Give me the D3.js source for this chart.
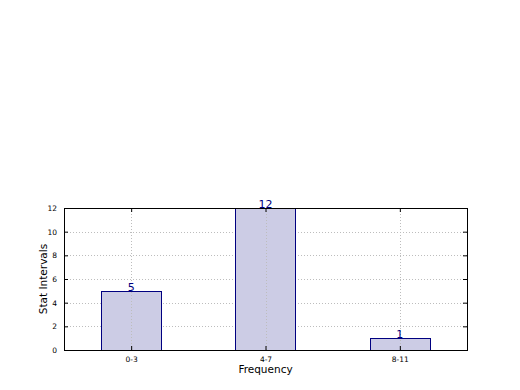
<!DOCTYPE html>
<html>
<head>
<meta charset="utf-8">
<script src="https://cdn.jsdelivr.net/npm/d3@7"></script>
<style>
  body { margin: 0; background: #fff; }
  svg { font-family: "DejaVu Sans", sans-serif; }
</style>
</head>
<body>
<div id="chart"></div>
<script>
// frequency bar chart

const categories = ["0-3", "4-7", "8-11"]
const counts = [5, 12, 1]
const yTicks = [0, 2, 4, 6, 8, 10, 12]

const width = 520
const height = 390

// plot box
const plotLeft = 64, plotRight = 467, plotTop = 208, plotBottom = 350

const xScale = d3.scalePoint(categories, [plotLeft, plotRight]).padding(0.5)
const yScale = d3.scaleLinear([0, 12], [plotBottom, plotTop])
const barW = xScale.step() * 0.45

const svg = d3.select("#chart")
  .append("svg")
  .attr("width", width)
  .attr("height", height)

// horizontal grid
svg.append("g")
  .attr("stroke", "#bdbdbd")
  .attr("stroke-dasharray", "1,2")
  .selectAll("line")
  .data(yTicks)
  .join("line")
  .attr("x1", plotLeft).attr("x2", plotRight)
  .attr("y1", d => Math.round(yScale(d)) + 0.5)
  .attr("y2", d => Math.round(yScale(d)) + 0.5)

// bars
svg.append("g")
  .selectAll("rect")
  .data(counts)
  .join("rect")
  .attr("x", (d, i) => Math.round(xScale(categories[i]) - barW / 2) + 0.5)
  .attr("y", d => Math.round(yScale(d)) + 0.5)
  .attr("width", Math.round(barW))
  .attr("height", d => yScale(0) - Math.round(yScale(d)))
  .attr("fill", "#ccccE5")
  .attr("stroke", "#000080")
  .attr("stroke-width", 1)

// vertical grid drawn over bars
svg.append("g")
  .attr("stroke", "#bdbdbd")
  .attr("stroke-dasharray", "1,2")
  .selectAll("line")
  .data(categories)
  .join("line")
  .attr("x1", d => Math.round(xScale(d)) + 0.5)
  .attr("x2", d => Math.round(xScale(d)) + 0.5)
  .attr("y1", plotTop).attr("y2", plotBottom)

// axes with inward ticks
const axL = d3.axisLeft(yScale).tickValues(yTicks).tickSizeInner(-4).tickSizeOuter(0).tickPadding(7)
const axR = d3.axisRight(yScale).tickValues(yTicks).tickSizeInner(-4).tickSizeOuter(0).tickFormat("")
const axB = d3.axisBottom(xScale).tickSizeInner(-4).tickSizeOuter(0).tickPadding(7)
const axT = d3.axisTop(xScale).tickSizeInner(-4).tickSizeOuter(0).tickFormat("")

function styleAxis(g) {
  g.select(".domain").remove()
  g.selectAll("line").attr("stroke", "#000")
  g.selectAll("text").attr("font-size", "7.5px").attr("fill", "#000")
    .attr("font-family", "DejaVu Sans, sans-serif")
}

svg.append("g").attr("transform", `translate(${plotLeft},0)`).call(axL).call(styleAxis)
svg.append("g").attr("transform", `translate(${plotRight},0)`).call(axR).call(styleAxis)
svg.append("g").attr("transform", `translate(0,${plotBottom})`).call(axB).call(styleAxis)
svg.append("g").attr("transform", `translate(0,${plotTop})`).call(axT).call(styleAxis)

// frame
svg.append("rect")
  .attr("x", plotLeft + 0.5).attr("y", plotTop + 0.5)
  .attr("width", plotRight - plotLeft).attr("height", plotBottom - plotTop)
  .attr("fill", "none").attr("stroke", "#000")

// value labels
svg.append("g")
  .selectAll("text")
  .data(counts)
  .join("text")
  .attr("x", (d, i) => xScale(categories[i]))
  .attr("y", d => yScale(d))
  .attr("text-anchor", "middle")
  .attr("font-size", "11px")
  .attr("fill", "#000080")
  .text(d => d)

// axis titles
svg.append("text")
  .attr("x", (plotLeft + plotRight) / 2)
  .attr("y", 373)
  .attr("text-anchor", "middle")
  .attr("font-size", "10.5px")
  .text("Frequency")

svg.append("text")
  .attr("transform", `translate(47,${(plotTop + plotBottom) / 2}) rotate(-90)`)
  .attr("text-anchor", "middle")
  .attr("font-size", "10.5px")
  .text("Stat Intervals")
</script>
</body>
</html>
